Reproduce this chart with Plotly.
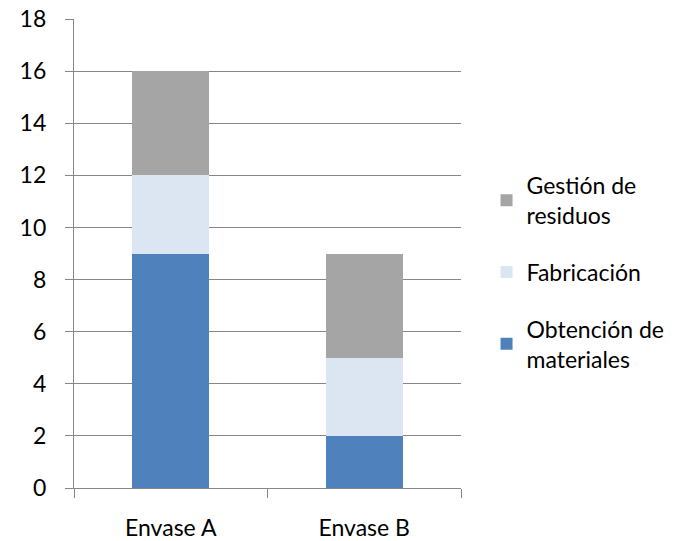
import plotly.graph_objects as go

categories = ["Envase A", "Envase B"]
obtencion = [9, 2]
fabricacion = [3, 3]
gestion = [4, 4]
y_ticks = [0, 2, 4, 6, 8, 10, 12, 14, 16, 18]

FONT = "Lato, 'Open Sans', sans-serif"
AX = "#868686"

fig = go.Figure()
fig.add_bar(x=categories, y=obtencion, name="Obtención de<br>materiales",
            marker=dict(color="#4F81BD", line=dict(width=0)), legendgroup="a", legendrank=3)
fig.add_bar(x=categories, y=fabricacion, name="Fabricación",
            marker=dict(color="#DCE6F2", line=dict(width=0)), legendgroup="b", legendrank=2)
fig.add_bar(x=categories, y=gestion, name="Gestión de<br>residuos",
            marker=dict(color="#A5A5A5", line=dict(width=0)), legendgroup="c", legendrank=1)

fig.update_layout(
    barmode="stack",
    bargap=0.6,
    width=678, height=541,
    margin=dict(l=74, r=217, t=19, b=53, autoexpand=False),
    paper_bgcolor="white", plot_bgcolor="white",
    font=dict(family=FONT, size=23, color="#000000"),
    legend=dict(traceorder="grouped", x=1.066, xanchor="left", y=0.46, yanchor="middle",
                font=dict(size=23), tracegroupgap=24, itemwidth=30,
                bgcolor="rgba(0,0,0,0)"),
    showlegend=True,
)
fig.update_xaxes(
    showline=True, linecolor=AX, linewidth=1.3, automargin=False,
    ticks="outside", tickson="boundaries", ticklen=9, tickcolor=AX, tickwidth=1.3,
    ticklabelstandoff=19, showgrid=False,
)
fig.update_yaxes(
    range=[0, 18], tickvals=y_ticks, automargin=False,
    showline=True, linecolor=AX, linewidth=1.3,
    ticks="outside", ticklen=8, tickcolor=AX, tickwidth=1.3,
    showgrid=True, gridcolor=AX, gridwidth=1.3,
    ticklabelstandoff=14, zeroline=False,
)

fig.write_html("out.html", config={"displayModeBar": False},
               post_script="document.body.style.margin='0';document.body.style.overflow='hidden';")
